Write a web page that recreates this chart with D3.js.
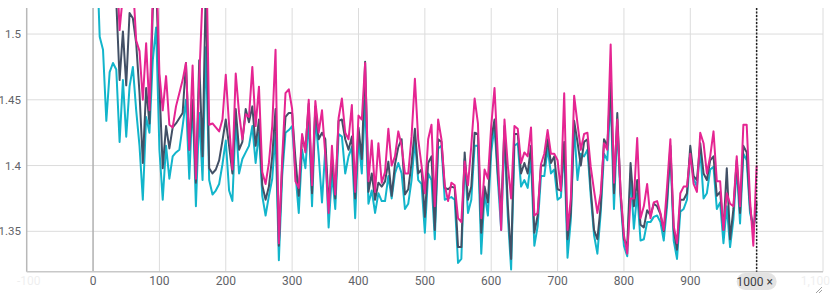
<!DOCTYPE html>
<html>
  <head>
    <meta http-equiv="Content-Type" content="text/html;charset=utf-8"/>
    <title>Loss</title>
    <script src="https://d3js.org/d3.v7.min.js"></script>
    <style>
      body { margin: 0; background: #fff; }
      svg { display: block; font-family: Roboto, "Noto Sans", sans-serif; }
    </style>
  </head>
  <body>
    <div id="chart"></div>
    <script type="text/javascript">
      // step values (x)
      const steps = [5,10,15,20,25,30,35,40,45,50,55,60,65,70,75,80,85,90,95,100,
        105,110,115,120,125,130,135,140,145,150,155,160,165,170,175,180,185,190,195,200,
        205,210,215,220,225,230,235,240,245,250,255,260,265,270,275,280,285,290,295,300,
        305,310,315,320,325,330,335,340,345,350,355,360,365,370,375,380,385,390,395,400,
        405,410,415,420,425,430,435,440,445,450,455,460,465,470,475,480,485,490,495,500,
        505,510,515,520,525,530,535,540,545,550,555,560,565,570,575,580,585,590,595,600,
        605,610,615,620,625,630,635,640,645,650,655,660,665,670,675,680,685,690,695,700,
        705,710,715,720,725,730,735,740,745,750,755,760,765,770,775,780,785,790,795,800,
        805,810,815,820,825,830,835,840,845,850,855,860,865,870,875,880,885,890,895,900,
        905,910,915,920,925,930,935,940,945,950,955,960,965,970,975,980,985,990,995,1000]

      const cyanRun = [1.57,1.498,1.488,1.434,1.471,1.478,1.473,1.418,1.465,1.422,1.46,1.475,1.442,1.415,1.374,1.437,1.425,1.48,1.505,1.412,
        1.374,1.415,1.39,1.407,1.41,1.412,1.43,1.45,1.39,1.45,1.369,1.44,1.389,1.49,1.389,1.378,1.381,1.386,1.401,1.419,
        1.381,1.373,1.435,1.394,1.405,1.41,1.415,1.43,1.402,1.425,1.377,1.362,1.377,1.39,1.425,1.328,1.392,1.425,1.427,1.43,
        1.394,1.364,1.412,1.398,1.435,1.369,1.438,1.408,1.372,1.413,1.353,1.394,1.367,1.424,1.422,1.394,1.407,1.414,1.36,1.422,
        1.394,1.45,1.371,1.381,1.364,1.379,1.373,1.373,1.392,1.375,1.394,1.402,1.394,1.367,1.371,1.389,1.419,1.389,1.386,1.349,
        1.394,1.389,1.344,1.413,1.415,1.374,1.375,1.376,1.374,1.326,1.329,1.405,1.364,1.374,1.415,1.415,1.333,1.379,1.362,1.41,
        1.43,1.389,1.351,1.422,1.362,1.321,1.415,1.417,1.384,1.389,1.383,1.405,1.339,1.354,1.392,1.392,1.413,1.394,1.397,1.374,
        1.376,1.413,1.33,1.359,1.43,1.389,1.409,1.407,1.412,1.377,1.347,1.333,1.364,1.409,1.404,1.453,1.367,1.43,1.374,1.339,
        1.331,1.394,1.352,1.379,1.343,1.344,1.357,1.357,1.361,1.362,1.357,1.343,1.369,1.412,1.343,1.329,1.365,1.367,1.374,1.41,
        1.39,1.384,1.412,1.375,1.379,1.397,1.399,1.367,1.372,1.341,1.369,1.338,1.359,1.399,1.356,1.409,1.404,1.364,1.354,1.365]

      const grayRun = [1.68,1.62,1.6,1.57,1.58,1.55,1.525,1.465,1.502,1.461,1.516,1.512,1.493,1.455,1.402,1.459,1.432,1.518,1.54,1.46,
        1.398,1.43,1.413,1.429,1.432,1.436,1.44,1.478,1.412,1.45,1.387,1.48,1.407,1.54,1.398,1.394,1.397,1.404,1.419,1.435,
        1.415,1.394,1.443,1.412,1.418,1.443,1.433,1.445,1.415,1.435,1.385,1.374,1.384,1.407,1.443,1.339,1.4,1.437,1.44,1.44,
        1.405,1.377,1.422,1.412,1.447,1.379,1.445,1.42,1.425,1.42,1.37,1.405,1.375,1.434,1.435,1.42,1.412,1.422,1.375,1.429,
        1.405,1.479,1.38,1.394,1.374,1.387,1.384,1.388,1.403,1.377,1.401,1.414,1.42,1.378,1.382,1.402,1.428,1.394,1.397,1.361,
        1.402,1.407,1.351,1.42,1.418,1.383,1.382,1.384,1.383,1.338,1.338,1.41,1.374,1.384,1.425,1.424,1.349,1.384,1.372,1.42,
        1.435,1.394,1.364,1.43,1.37,1.329,1.424,1.424,1.394,1.402,1.394,1.415,1.349,1.362,1.4,1.4,1.42,1.402,1.407,1.382,
        1.381,1.418,1.344,1.364,1.434,1.418,1.4,1.418,1.42,1.382,1.351,1.344,1.369,1.42,1.415,1.463,1.379,1.44,1.379,1.344,
        1.339,1.402,1.369,1.389,1.355,1.353,1.366,1.362,1.371,1.369,1.363,1.35,1.374,1.415,1.351,1.336,1.374,1.374,1.379,1.415,
        1.392,1.389,1.417,1.394,1.389,1.404,1.407,1.377,1.38,1.351,1.398,1.344,1.367,1.404,1.364,1.415,1.41,1.369,1.35,1.372]

      const magentaRun = [1.72,1.66,1.63,1.6,1.61,1.58,1.56,1.503,1.53,1.55,1.53,1.54,1.495,1.487,1.45,1.493,1.442,1.53,1.56,1.47,
        1.442,1.468,1.431,1.429,1.445,1.455,1.465,1.478,1.412,1.476,1.39,1.465,1.53,1.58,1.431,1.432,1.429,1.426,1.435,1.469,
        1.431,1.397,1.47,1.44,1.42,1.439,1.437,1.475,1.43,1.46,1.395,1.386,1.402,1.43,1.488,1.341,1.405,1.455,1.458,1.443,
        1.388,1.383,1.424,1.41,1.45,1.385,1.449,1.425,1.442,1.408,1.364,1.415,1.378,1.436,1.451,1.425,1.42,1.446,1.38,1.438,
        1.435,1.478,1.388,1.419,1.38,1.417,1.387,1.395,1.428,1.4,1.407,1.426,1.415,1.394,1.394,1.422,1.466,1.42,1.4,1.379,
        1.42,1.431,1.369,1.435,1.42,1.385,1.373,1.387,1.385,1.36,1.357,1.403,1.385,1.415,1.451,1.432,1.36,1.397,1.39,1.43,
        1.459,1.407,1.351,1.435,1.4,1.375,1.43,1.428,1.402,1.41,1.407,1.429,1.362,1.364,1.401,1.409,1.427,1.409,1.409,1.404,
        1.381,1.455,1.351,1.375,1.453,1.432,1.412,1.424,1.425,1.399,1.381,1.364,1.379,1.417,1.412,1.492,1.387,1.435,1.38,1.347,
        1.333,1.375,1.375,1.421,1.36,1.369,1.386,1.36,1.372,1.373,1.364,1.351,1.384,1.42,1.354,1.341,1.379,1.384,1.384,1.409,
        1.386,1.38,1.425,1.417,1.394,1.407,1.426,1.388,1.388,1.351,1.379,1.371,1.369,1.407,1.369,1.431,1.431,1.374,1.339,1.4]

      const yTicks = [1.35, 1.4, 1.45, 1.5]
      const xTicks = [0, 100, 200, 300, 400, 500, 600, 700, 800, 900]
      const cursorStep = 1000

      const width = 831, height = 295
      const plotLeft = 26.7, plotRight = 823, plotTop = 8, plotBottom = 271.7

      const x = d3.scaleLinear().domain([-100, 1100]).range([plotLeft, plotRight])
      const y = d3.scaleLinear().domain([1.3193, 1.5198]).range([plotBottom, plotTop])

      const svg = d3.select('#chart').append('svg')
        .attr('width', width).attr('height', height)

      svg.append('defs').append('clipPath').attr('id', 'plot')
        .append('rect').attr('x', plotLeft).attr('y', plotTop)
        .attr('width', plotRight - plotLeft).attr('height', plotBottom - plotTop)

      // grid
      const grid = svg.append('g')
      grid.selectAll('.gy').data(yTicks).enter().append('line')
        .attr('x1', plotLeft).attr('x2', plotRight)
        .attr('y1', d => y(d)).attr('y2', d => y(d))
        .attr('stroke', '#dcdcdc').attr('stroke-width', 1)
      grid.selectAll('.gx').data(xTicks.concat([1000, 1100])).enter().append('line')
        .attr('x1', d => x(d)).attr('x2', d => x(d))
        .attr('y1', plotTop).attr('y2', plotBottom)
        .attr('stroke', d => d === 0 ? '#b0b0b0' : '#dcdcdc')
        .attr('stroke-width', d => d === 0 ? 1.5 : 1)

      // axis lines
      svg.append('line').attr('x1', plotLeft).attr('x2', plotLeft).attr('y1', plotTop).attr('y2', plotBottom)
        .attr('stroke', '#b8b8b8').attr('stroke-width', 1.5)
      svg.append('line').attr('x1', plotLeft).attr('x2', plotRight).attr('y1', plotBottom).attr('y2', plotBottom)
        .attr('stroke', '#c8c8c8').attr('stroke-width', 1.5)

      // y labels
      svg.selectAll('.yl').data(yTicks).enter().append('text')
        .attr('x', 21).attr('y', d => y(d)).attr('dy', '0.35em')
        .attr('text-anchor', 'end').attr('font-size', 11.5).attr('fill', '#5f6368')
        .text(d => d3.format('')(d))

      // x labels
      svg.selectAll('.xl').data(xTicks).enter().append('text')
        .attr('x', d => x(d)).attr('y', 281).attr('dy', '0.35em')
        .attr('text-anchor', 'middle').attr('font-size', 12).attr('fill', '#5f6368')
        .text(d => d)
      svg.append('text').attr('x', x(-100) + 2).attr('y', 281).attr('dy', '0.35em')
        .attr('text-anchor', 'middle').attr('font-size', 12).attr('fill', '#5f6368')
        .attr('opacity', 0.1).text('-100')
      svg.append('text').attr('x', 830).attr('y', 281).attr('dy', '0.35em')
        .attr('text-anchor', 'end').attr('font-size', 12).attr('fill', '#5f6368')
        .attr('opacity', 0.1).text('1,100')

      // runs
      const runs = [
        { values: cyanRun, color: '#12b5cb' },
        { values: grayRun, color: '#425066' },
        { values: magentaRun, color: '#e52592' }
      ]
      const line = d3.line().x((d, i) => x(steps[i])).y(d => y(d))
      svg.append('g').attr('clip-path', 'url(#plot)')
        .selectAll('path').data(runs).enter().append('path')
        .attr('d', d => line(d.values))
        .attr('fill', 'none')
        .attr('stroke', d => d.color)
        .attr('stroke-width', 2)
        .attr('stroke-linejoin', 'round')

      // cursor line
      svg.append('line')
        .attr('x1', x(cursorStep)).attr('x2', x(cursorStep))
        .attr('y1', plotTop).attr('y2', plotBottom)
        .attr('stroke', '#222').attr('stroke-width', 1.5)
        .attr('stroke-dasharray', '2,1.5')

      const chip = svg.append('g')
      chip.append('rect')
        .attr('x', x(cursorStep) - 20).attr('y', 273)
        .attr('width', 40).attr('height', 17).attr('rx', 8.5)
        .attr('fill', '#e3e3e3')
      chip.append('text')
        .attr('x', x(cursorStep) - 2).attr('y', 281.5).attr('dy', '0.35em')
        .attr('text-anchor', 'middle').attr('font-size', 12).attr('fill', '#3c4043')
        .text('1000 ×')

      // resize grip
      svg.append('path').attr('d', 'M816,293 L822,287 M819,293 L822,290')
        .attr('stroke', '#888').attr('stroke-width', 0.8)
    </script>
  </body>
</html>
